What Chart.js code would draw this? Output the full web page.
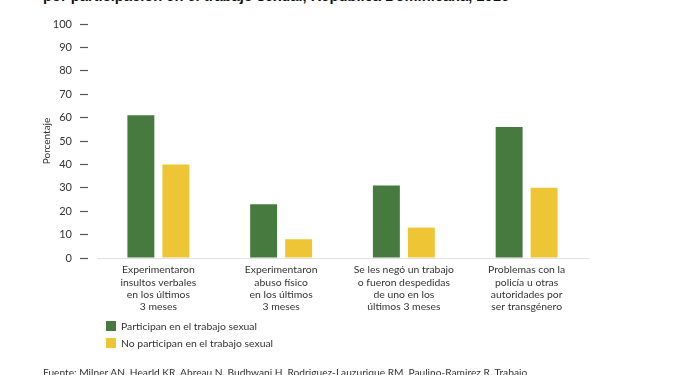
<!DOCTYPE html>
<html>
<head>
<meta charset="utf-8">
<script src="https://cdn.jsdelivr.net/npm/chart.js@4"></script>
<style>
   body { margin: 0; background: #fff; overflow: hidden; }
   #wrap { position: relative; width: 675px; height: 375px; overflow: hidden; font-family: Lato, sans-serif; color: #333; }
   #myChart { position: absolute; left: 0; top: 0; }
   #title { position: absolute; left: 43px; top: -12.5px; font: bold 14.7px "Liberation Sans", Arial, sans-serif; color: #111; white-space: nowrap; }
   #legend { position: absolute; left: 106px; top: 320px; font-size: 10.4px; }
   .item { height: 17px; line-height: 13px; white-space: nowrap; }
   .box { display: inline-block; width: 10px; height: 10px; vertical-align: -1px; margin-right: 5px; }
   #source { position: absolute; left: 43px; top: 366px; font-size: 10.2px; white-space: nowrap; }
</style>
</head>
<body>
<div id="wrap">
   <div id="title">por participación en el trabajo sexual, República Dominicana, 2016</div>
   <canvas id="myChart" width="675" height="375"></canvas>
   <div id="legend"></div>
   <div id="source">Fuente: Milner AN, Hearld KR, Abreau N, Budhwani H, Rodriguez-Lauzurique RM, Paulino-Ramirez R. Trabajo</div>
</div>
<script>
// categorías (etiquetas del eje x, en varias líneas)
const categories = [
   ["Experimentaron", "insultos verbales", "en los últimos", "3 meses"],
   ["Experimentaron", "abuso físico", "en los últimos", "3 meses"],
   ["Se les negó un trabajo", "o fueron despedidas", "de uno en los", "últimos 3 meses"],
   ["Problemas con la", "policía u otras", "autoridades por", "ser transgénero"]
];
const seriesNames = ["Participan en el trabajo sexual", "No participan en el trabajo sexual"];
const participan = [61, 23, 31, 56];
const noParticipan = [40, 8, 13, 30];
const yTicks = [0, 10, 20, 30, 40, 50, 60, 70, 80, 90, 100];

const colors = ['#477a3e', '#eec535'];

Chart.defaults.font.family = 'Lato, sans-serif';

const ctx = document.getElementById('myChart').getContext('2d');
const chart = new Chart(ctx, {
   type: 'bar',
   data: {
      labels: categories,
      datasets: [
         { label: seriesNames[0], data: participan, backgroundColor: colors[0] },
         { label: seriesNames[1], data: noParticipan, backgroundColor: colors[1] }
      ]
   },
   options: {
      responsive: false,
      animation: false,
      categoryPercentage: 0.57,
      barPercentage: 0.77,
      layout: { padding: { left: 0, right: 87, top: 24, bottom: 57 } },
      plugins: { legend: { display: false }, tooltip: { enabled: false } },
      scales: {
         x: {
            grid: { display: false, drawTicks: false },
            border: { display: true, color: '#e2e2e2', width: 1 },
            ticks: { color: '#333', font: { size: 10.4, lineHeight: 1.18 }, padding: 6, maxRotation: 0, autoSkip: false },
            afterFit: function(scale) { scale.height = 60; }
         },
         y: {
            min: 0, max: 100,
            afterBuildTicks: function(scale) { scale.ticks = yTicks.map(v => ({ value: v })); },
            grid: { drawOnChartArea: false, tickLength: 17, tickBorderDash: [8, 9], tickColor: '#555', tickWidth: 1.2 },
            border: { display: false },
            ticks: { color: '#333', font: { size: 11 }, padding: 8 },
            title: { display: true, text: 'Porcentaje', color: '#333', font: { size: 10 }, padding: { top: 41, bottom: 0 } },
            afterFit: function(scale) { scale.width = 97; }
         }
      }
   }
});

// leyenda vertical en HTML a partir de los datasets
const legend = document.getElementById('legend');
chart.data.datasets.forEach(ds => {
   const div = document.createElement('div');
   div.className = 'item';
   div.innerHTML = `<span class="box" style="background:${ds.backgroundColor}"></span>${ds.label}`;
   legend.appendChild(div);
});
</script>
</body>
</html>
